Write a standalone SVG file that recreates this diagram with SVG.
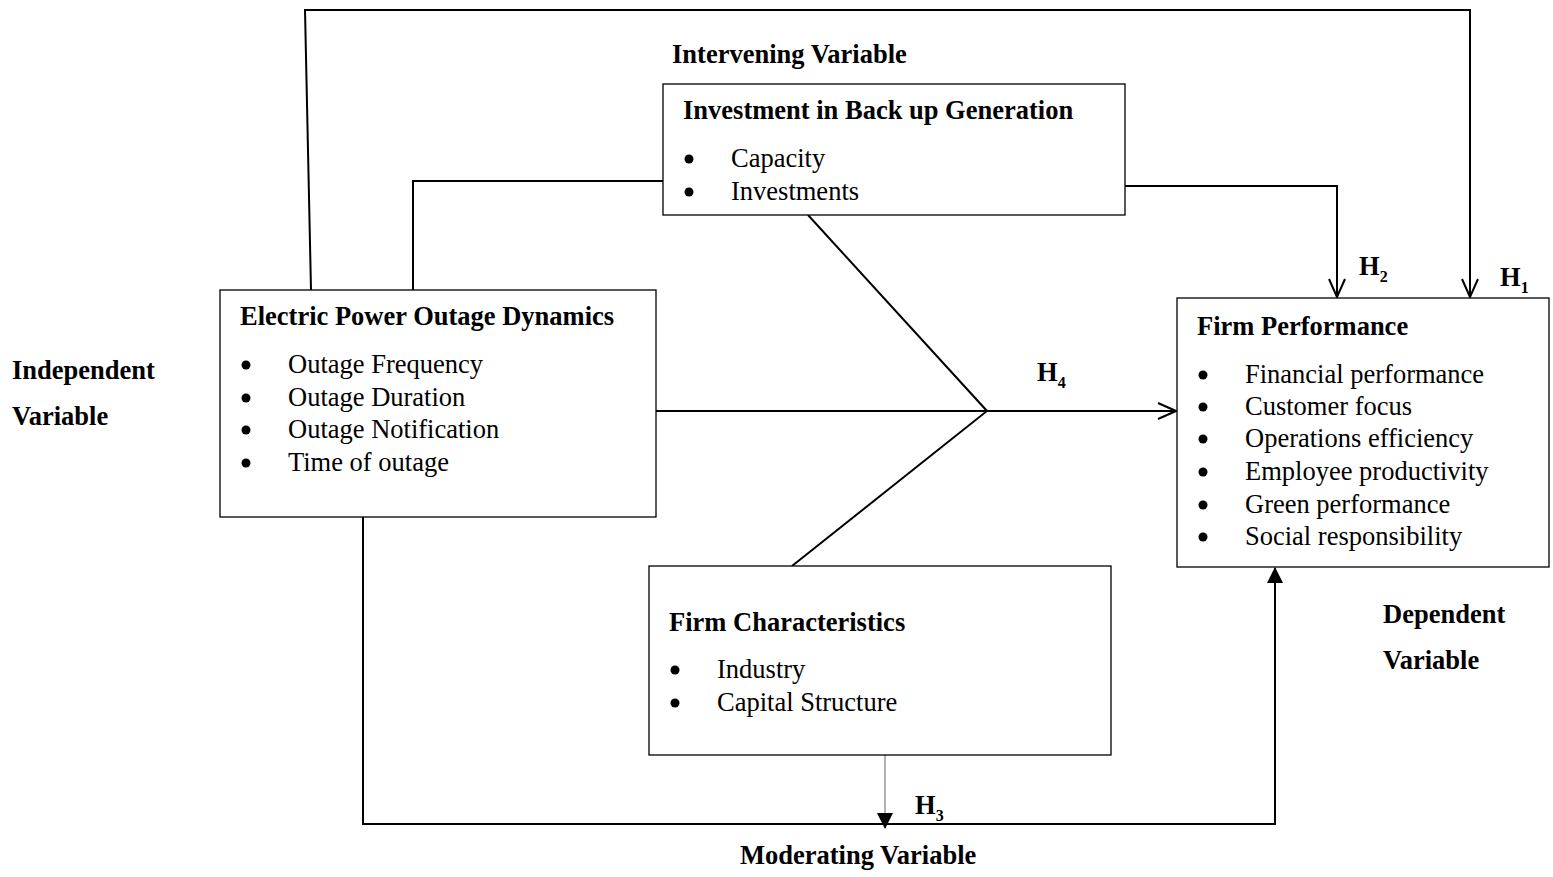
<svg xmlns="http://www.w3.org/2000/svg" width="1553" height="877" viewBox="0 0 1553 877">
<defs>
<marker id="open" viewBox="0 0 20 20" refX="19" refY="10" markerWidth="20" markerHeight="20" markerUnits="userSpaceOnUse" orient="auto"><path d="M1,2 L19,10 L1,18" fill="none" stroke="#000" stroke-width="2"/></marker>
<marker id="filled" viewBox="0 0 16 16" refX="15" refY="8" markerWidth="16" markerHeight="16" markerUnits="userSpaceOnUse" orient="auto"><path d="M0,0 L16,8 L0,16 Z" fill="#000"/></marker>
</defs>
<style>
text{font-family:"Liberation Serif","Times New Roman",serif;fill:#000}
.b{font-weight:bold;font-size:26.5px}
.t{font-size:26.5px}
.box{fill:#fff;stroke:#000;stroke-width:1.3}
.ln{fill:none;stroke:#000;stroke-width:2}
.sub{font-weight:bold;font-size:16px}
.dot{fill:#000}
</style>
<rect width="1553" height="877" fill="#fff"/>
<g id="connectors">
<path class="ln" d="M311,290 L305,10 L1470,10 L1470,297" marker-end="url(#open)"/>
<path class="ln" d="M413,290 L413,181 L667,181"/>
<path class="ln" d="M1125,186 L1337,186 L1337,297" marker-end="url(#open)"/>
<path class="ln" d="M808,215 L987,411 L792,566"/>
<path class="ln" d="M656,411 L1176,411" marker-end="url(#open)"/>
<path class="ln" d="M363,512 L363,824 L1275,824 L1275,568" marker-end="url(#filled)"/>
<path fill="none" stroke="#888" stroke-width="1.3" d="M885,755 L885,828" marker-end="url(#filled)"/>
</g>
<g id="labels">
<text class="b" x="672" y="63">Intervening Variable</text>
<text class="b" x="12" y="379">Independent</text>
<text class="b" x="12" y="425">Variable</text>
<text class="b" x="1383" y="623">Dependent</text>
<text class="b" x="1383" y="669">Variable</text>
<text class="b" x="740" y="864">Moderating Variable</text>
<text class="b" x="1037" y="381">H<tspan class="sub" dy="7">4</tspan></text>
<text class="b" x="1359" y="275">H<tspan class="sub" dy="7">2</tspan></text>
<text class="b" x="1500" y="286">H<tspan class="sub" dy="7">1</tspan></text>
<text class="b" x="915" y="814">H<tspan class="sub" dy="7">3</tspan></text>
</g>
<g id="investment">
<rect class="box" x="663" y="84" width="462" height="131"/>
<text class="b" x="683" y="119">Investment in Back up Generation</text>
<circle class="dot" cx="689" cy="159" r="4.5"/><text class="t" x="731" y="167">Capacity</text>
<circle class="dot" cx="689" cy="192" r="4.5"/><text class="t" x="731" y="200">Investments</text>
</g>
<g id="outage">
<rect class="box" x="220" y="290" width="436" height="227"/>
<text class="b" x="240" y="325">Electric Power Outage Dynamics</text>
<circle class="dot" cx="246" cy="365" r="4.5"/><text class="t" x="288" y="373">Outage Frequency</text>
<circle class="dot" cx="246" cy="398" r="4.5"/><text class="t" x="288" y="406">Outage Duration</text>
<circle class="dot" cx="246" cy="430" r="4.5"/><text class="t" x="288" y="438">Outage Notification</text>
<circle class="dot" cx="246" cy="463" r="4.5"/><text class="t" x="288" y="471">Time of outage</text>
</g>
<g id="performance">
<rect class="box" x="1177" y="298" width="372" height="269"/>
<text class="b" x="1197" y="335">Firm Performance</text>
<circle class="dot" cx="1203" cy="375" r="4.5"/><text class="t" x="1245" y="383">Financial performance</text>
<circle class="dot" cx="1203" cy="407" r="4.5"/><text class="t" x="1245" y="415">Customer focus</text>
<circle class="dot" cx="1203" cy="439" r="4.5"/><text class="t" x="1245" y="447">Operations efficiency</text>
<circle class="dot" cx="1203" cy="472" r="4.5"/><text class="t" x="1245" y="480">Employee productivity</text>
<circle class="dot" cx="1203" cy="505" r="4.5"/><text class="t" x="1245" y="513">Green performance</text>
<circle class="dot" cx="1203" cy="537" r="4.5"/><text class="t" x="1245" y="545">Social responsibility</text>
</g>
<g id="characteristics">
<rect class="box" x="649" y="566" width="462" height="189"/>
<text class="b" x="669" y="631">Firm Characteristics</text>
<circle class="dot" cx="675" cy="670" r="4.5"/><text class="t" x="717" y="678">Industry</text>
<circle class="dot" cx="675" cy="703" r="4.5"/><text class="t" x="717" y="711">Capital Structure</text>
</g>
</svg>
